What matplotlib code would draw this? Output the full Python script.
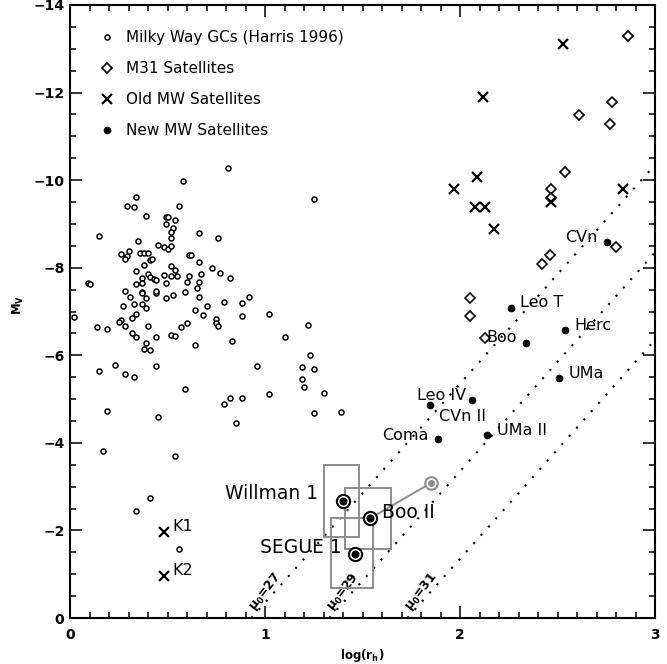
#!/usr/bin/env python3
# -*- coding: utf-8 -*-
"""
Size-luminosity plane: Milky Way GCs, M31 and MW dwarf satellites
"""

import matplotlib
matplotlib.use('Agg')
import matplotlib.pyplot as plt
from matplotlib.patches import Rectangle
from matplotlib.ticker import MultipleLocator
import numpy as np

plt.rcParams['font.family'] = ['DejaVu Sans']
plt.rcParams['mathtext.fontset'] = 'dejavusans'

COLOR_INK = '#000000'
COLOR_GREY = '#8c8c8c'

# ============================================================================
# DATA  (log r_h [pc], M_V)
# ============================================================================

# Milky Way globular clusters (Harris 1996)
gc_logrh = [0.81, 0.58, 1.25, 0.34, 0.29, 0.33, 0.56, 0.39, 0.49, 0.50,
            0.54, 0.49, 0.53, 0.52, 0.52, 0.15, 0.66, 0.76, 0.35, 0.45,
            0.48, 0.50, 0.52, 0.26, 0.30, 0.29, 0.28, 0.36, 0.38, 0.40,
            0.61, 0.62, 0.41, 0.42, 0.38, 0.66, 0.52, 0.54, 0.73, 0.34,
            0.40, 0.41, 0.37, 0.43, 0.44, 0.48, 0.52, 0.55, 0.61, 0.67,
            0.77, 0.82, 0.09, 0.10, 0.37, 0.34, 0.49, 0.60, 0.66, 0.65,
            0.28, 0.37, 0.37, 0.44, 0.44, 0.59, 0.66, 0.31, 0.39, 0.49,
            0.53, 0.92, 0.79, 0.88, 0.33, 0.37, 0.27, 0.39, 0.70, 0.64,
            0.68, 0.34, 0.32, 0.88, 1.02, 0.02, 0.75, 0.75, 0.76, 0.26,
            0.25, 0.60, 0.40, 1.22, 0.14, 0.19, 0.28, 0.57, 0.32, 0.34,
            0.44, 0.52, 0.54, 1.10, 0.83, 0.39, 0.64, 0.38, 0.41, 1.23,
            0.15, 0.23, 0.28, 0.33, 0.44, 0.96, 1.19, 1.25, 1.19, 1.20,
            0.59, 1.02, 0.82, 0.88, 1.30, 0.79, 0.19, 0.45, 0.85, 1.25,
            1.39, 0.17, 0.54, 0.34, 0.41, 0.56]
gc_mv = [-10.27, -9.99, -9.56, -9.62, -9.41, -9.38, -9.41, -9.17, -9.16, -9.16,
         -9.10, -9.00, -8.91, -8.82, -8.68, -8.73, -8.79, -8.68, -8.60, -8.53,
         -8.48, -8.42, -8.50, -8.32, -8.39, -8.27, -8.21, -8.33, -8.34, -8.34,
         -8.29, -8.29, -8.18, -8.19, -8.06, -8.14, -8.04, -7.95, -8.00, -7.92,
         -7.85, -7.79, -7.76, -7.75, -7.73, -7.84, -7.80, -7.80, -7.82, -7.85,
         -7.89, -7.76, -7.64, -7.63, -7.66, -7.63, -7.66, -7.68, -7.67, -7.53,
         -7.47, -7.44, -7.42, -7.42, -7.47, -7.45, -7.34, -7.34, -7.31, -7.30,
         -7.37, -7.32, -7.21, -7.19, -7.18, -7.18, -7.12, -7.09, -7.12, -7.03,
         -6.93, -6.94, -6.86, -6.89, -6.94, -6.87, -6.84, -6.73, -6.67, -6.80,
         -6.76, -6.74, -6.68, -6.70, -6.64, -6.61, -6.66, -6.65, -6.50, -6.42,
         -6.42, -6.46, -6.44, -6.42, -6.33, -6.29, -6.24, -6.14, -6.12, -6.00,
         -5.65, -5.77, -5.58, -5.50, -5.75, -5.75, -5.73, -5.68, -5.46, -5.27,
         -5.24, -5.11, -5.02, -5.02, -5.14, -4.88, -4.73, -4.59, -4.45, -4.69,
         -4.70, -3.82, -3.71, -2.44, -2.74, -1.57]

# M31 satellites
m31_logrh = [2.86, 2.78, 2.61, 2.77, 2.54, 2.465, 2.465, 2.80, 2.46, 2.42,
             2.05, 2.05, 2.13]
m31_mv = [-13.29, -11.79, -11.49, -11.29, -10.18, -9.79, -9.59, -8.48, -8.28,
          -8.08, -7.30, -6.89, -6.39]

# Old MW satellites (incl. Koposov 1 & 2)
old_names = ['', '', '', '', '', '', '', '', '', 'K1', 'K2']
old_logrh = [2.53, 2.12, 2.085, 1.97, 2.075, 2.13, 2.175, 2.465, 2.835, 0.48, 0.48]
old_mv = [-13.10, -11.89, -10.08, -9.79, -9.39, -9.39, -8.89, -9.49, -9.79,
          -1.97, -0.97]

# New MW satellites
new_names = ['CVn', 'Leo T', 'Herc', 'Boo', 'UMa', 'Leo IV', 'CVn II',
             'UMa II', 'Coma']
new_logrh = [2.755, 2.26, 2.54, 2.34, 2.51, 2.06, 1.845, 2.14, 1.885]
new_mv = [-8.59, -7.09, -6.58, -6.29, -5.49, -4.98, -4.87, -4.18, -4.08]

# Faintest objects, with size / luminosity uncertainty boxes
faint_names = ['Willman 1', 'Boo II', 'SEGUE 1']
faint_logrh = [1.40, 1.54, 1.46]
faint_mv = [-2.68, -2.28, -1.47]
box_logrh_lo = [1.30, 1.41, 1.34]
box_logrh_hi = [1.48, 1.645, 1.555]
box_mv_lo = [-3.49, -2.97, -2.28]
box_mv_hi = [-1.85, -1.57, -0.68]

# Alternative Boo II estimate
booii_alt_logrh = 1.85
booii_alt_mv = -3.08

# Lines of constant surface brightness
mu0_values = [27, 29, 31]
MU_ZERO = 22.35      # mu0 = M_V + 5 log(r_h) + MU_ZERO

# label offsets (points) and alignment
new_offsets = {'CVn': (-7, 3.4, 'right'), 'Leo T': (6.5, 3.3, 'left'),
               'Herc': (6.2, 3.4, 'left'), 'Boo': (-6.7, 3.4, 'right'),
               'UMa': (6.7, 3.2, 'left'), 'Leo IV': (-3.8, 3.1, 'right'),
               'CVn II': (6.5, -8.6, 'left'), 'UMa II': (6.9, 3.1, 'left'),
               'Coma': (-6.8, 3.1, 'right')}
faint_offsets = {'Willman 1': (-17.8, 4.8, 'right'), 'Boo II': (8.2, 4.0, 'left'),
                 'SEGUE 1': (-9.1, 4.6, 'right')}

# ============================================================================
# FIGURE
# ============================================================================

fig = plt.figure(figsize=(6.67, 6.64), dpi=100)
fig.patch.set_facecolor('white')
ax = fig.add_axes([70 / 667, 46 / 664, 585 / 667, 613 / 664])
ax.set_xlim(0, 3)
ax.set_ylim(0, -14)

# surface brightness lines
for mu in mu0_values:
    x0 = (mu - MU_ZERO) / 5.0
    xs = np.array([x0, 3.0])
    ax.plot(xs, mu - MU_ZERO - 5.0 * xs, color=COLOR_INK, lw=1.5,
            ls=(0, (1, 4.3)), zorder=1)
    mv_lab = -0.6
    ax.text((mu - MU_ZERO - mv_lab) / 5.0 - 0.05, mv_lab,
            r'$\mathbf{\mu_0}$=%d' % mu, fontsize=8.8, fontweight='bold',
            rotation=52, ha='center', va='center', zorder=2)

# uncertainty boxes
for i in range(len(faint_names)):
    ax.add_patch(Rectangle((box_logrh_lo[i], box_mv_lo[i]),
                           box_logrh_hi[i] - box_logrh_lo[i],
                           box_mv_hi[i] - box_mv_lo[i],
                           facecolor='none', edgecolor=COLOR_GREY, lw=1.4,
                           zorder=3))

# Boo II alternative
ax.plot([faint_logrh[1], booii_alt_logrh], [faint_mv[1], booii_alt_mv],
        color=COLOR_GREY, lw=1.4, zorder=3)
ax.plot(booii_alt_logrh, booii_alt_mv, 'o', ms=9, mfc='white',
        mec=COLOR_GREY, mew=1.5, zorder=4)
ax.plot(booii_alt_logrh, booii_alt_mv, 'o', ms=4, mfc=COLOR_GREY,
        mec=COLOR_GREY, zorder=5)

# point samples
h_gc, = ax.plot(gc_logrh, gc_mv, 'o', ls='none', ms=3.6, mfc='white',
                mec=COLOR_INK, mew=1.1, label='Milky Way GCs (Harris 1996)')
h_m31, = ax.plot(m31_logrh, m31_mv, 'D', ls='none', ms=5.5, mfc='white',
                 mec=COLOR_INK, mew=1.2, label='M31 Satellites')
h_old, = ax.plot(old_logrh, old_mv, 'x', ls='none', ms=6.5, mec=COLOR_INK,
                 mew=1.6, label='Old MW Satellites')
h_new, = ax.plot(new_logrh, new_mv, 'o', ls='none', ms=4.5, mfc=COLOR_INK,
                 mec=COLOR_INK, label='New MW Satellites')

# circled faintest objects
ax.plot(faint_logrh, faint_mv, 'o', ls='none', ms=9.5, mfc='white',
        mec=COLOR_INK, mew=1.5, zorder=6)
ax.plot(faint_logrh, faint_mv, 'o', ls='none', ms=4.8, mfc=COLOR_INK,
        mec=COLOR_INK, zorder=7)

# labels
for name, x, y in zip(new_names, new_logrh, new_mv):
    dx, dy, ha = new_offsets[name]
    ax.annotate(name, (x, y), xytext=(dx, dy), textcoords='offset points',
                ha=ha, va='center', fontsize=11.5)
for name, x, y in zip(old_names, old_logrh, old_mv):
    if name:
        ax.annotate(name, (x, y), xytext=(6, 3.6), textcoords='offset points',
                    ha='left', va='center', fontsize=11.5)
for name, x, y in zip(faint_names, faint_logrh, faint_mv):
    dx, dy, ha = faint_offsets[name]
    ax.annotate(name, (x, y), xytext=(dx, dy), textcoords='offset points',
                ha=ha, va='center', fontsize=13.5)

# legend
ax.legend(handles=[h_gc, h_m31, h_old, h_new], loc='upper left',
          bbox_to_anchor=(0.037, 0.969), frameon=False, fontsize=11,
          handlelength=1.2, handletextpad=0.65, labelspacing=1.05,
          borderaxespad=0, numpoints=1)

# ============================================================================
# AXES
# ============================================================================

ax.xaxis.set_major_locator(MultipleLocator(1))
ax.xaxis.set_minor_locator(MultipleLocator(0.1))
ax.yaxis.set_major_locator(MultipleLocator(2))
ax.yaxis.set_minor_locator(MultipleLocator(0.5))
ax.tick_params(which='both', direction='in', top=True, right=True, width=1.1)
ax.tick_params(which='major', length=8.5, labelsize=10)
ax.tick_params(which='minor', length=4.3)
ax.tick_params(axis='x', pad=7)
ax.tick_params(axis='y', pad=4)
for lbl in ax.get_xticklabels() + ax.get_yticklabels():
    lbl.set_fontweight('bold')
for sp in ax.spines.values():
    sp.set_linewidth(1.5)

ax.set_xlabel(r'log(r$_\mathbf{h}$)', fontsize=8.5, fontweight='bold')
ax.set_ylabel(r'M$_\mathbf{V}$', fontsize=8.5, fontweight='bold')
ax.xaxis.set_label_coords(0.5, -0.048)
ax.yaxis.set_label_coords(-0.075, 0.51)

plt.savefig('out.png', dpi=100, facecolor='white')
plt.close()
